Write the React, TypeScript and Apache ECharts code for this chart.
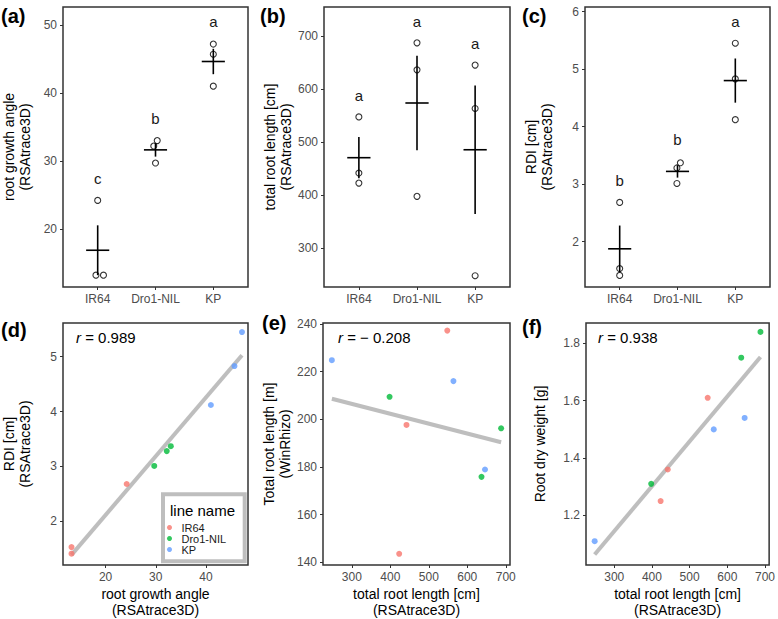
import React, { useEffect, useRef } from "react";
import * as echarts from "echarts";

// ---------- data ----------
const lineNames = ["IR64", "Dro1-NIL", "KP"];
const lineColors = ["#F8766D", "#00BA38", "#619CFF"];

// plants (3 per line), line index of each plant
const plantLine = [0, 0, 0, 1, 1, 1, 2, 2, 2];

// panels a, c, d
const rootGrowthAngle = [24.2, 13.2, 13.2, 33.0, 32.2, 29.7, 47.2, 45.7, 41.0];
const rdi = [2.68, 1.53, 1.41, 3.37, 3.28, 3.01, 5.45, 4.83, 4.12];
const jitterAngle = [0, -0.03, 0.1, 0.03, -0.03, 0, 0, 0, 0];
const jitterRdi = [0, 0, 0, 0.05, -0.01, -0.01, 0, 0, 0];

// panels b, e, f
const totalRootLengthRSA = [548, 442, 423, 688, 637, 398, 646, 564, 248];
const totalRootLengthWinRhizo = [237.2, 197.6, 143.5, 196.2, 175.8, 209.4, 178.9, 216.0, 224.8];
const rootDryWeight = [1.61, 1.36, 1.25, 1.84, 1.75, 1.31, 1.54, 1.5, 1.11];
const jitterLength = [0, 0, 0, 0, 0, 0, 0, 0, 0];

// significance letters
const lettersA = ["c", "b", "a"];
const letterYA = [27.4, 36.3, 50.5];
const lettersB = ["a", "a", "a"];
const letterYB = [589, 728, 687.5];
const lettersC = ["b", "b", "a"];
const letterYC = [3.07, 3.77, 5.83];

// correlation labels
const correlationLabels = ["0.989", "\u2212 0.208", "0.938"];

// tick values
const ticksAngleY = [20, 30, 40, 50];
const ticksLengthY = [300, 400, 500, 600, 700];
const ticksRdiTop = [2, 3, 4, 5, 6];
const ticksRdiBottom = [2, 3, 4, 5];
const ticksAngleX = [20, 30, 40];
const ticksLengthX = [300, 400, 500, 600, 700];
const ticksWinRhizo = [140, 160, 180, 200, 220, 240];
const ticksWeight = [1.2, 1.4, 1.6, 1.8];
const categoryTicks = [1, 2, 3];

// ---------- helpers ----------
const FONT = "Liberation Sans, Arial, Helvetica, sans-serif";

function meanSe(vals: number[]) {
  const n = vals.length;
  const m = vals.reduce((a, b) => a + b, 0) / n;
  const v = vals.reduce((a, b) => a + (b - m) * (b - m), 0) / (n - 1);
  const se = Math.sqrt(v) / Math.sqrt(n);
  return [m, m - se, m + se];
}

function groupStats(values: number[]) {
  return lineNames.map((_, li) => {
    const vals = values.filter((_, i) => plantLine[i] === li);
    const [m, lo, hi] = meanSe(vals);
    return [li + 1, m, lo, hi];
  });
}

function regression(xs: number[], ys: number[]) {
  const n = xs.length;
  const mx = xs.reduce((a, b) => a + b, 0) / n;
  const my = ys.reduce((a, b) => a + b, 0) / n;
  let sxy = 0, sxx = 0;
  for (let i = 0; i < n; i++) {
    sxy += (xs[i] - mx) * (ys[i] - my);
    sxx += (xs[i] - mx) * (xs[i] - mx);
  }
  const b = sxy / sxx;
  const a = my - b * mx;
  const x0 = Math.min(...xs), x1 = Math.max(...xs);
  return [[x0, a + b * x0], [x1, a + b * x1]];
}

const tickStyle = { show: true, length: 3, lineStyle: { color: "#333333", width: 1 } };
const labelBase = { color: "#4D4D4D", fontSize: 12, fontFamily: FONT, margin: 6 };
const nameStyle = { color: "#000", fontSize: 14, lineHeight: 16, fontFamily: FONT };

function valueAxis(gridIndex: number, min: number, max: number, ticks: number[], opts: any = {}) {
  const fmt = opts.formatter || ((v: number) => String(v));
  return {
    type: "value",
    gridIndex,
    min,
    max,
    axisLine: { show: false },
    splitLine: { show: false },
    axisTick: { ...tickStyle, customValues: ticks },
    axisLabel: { ...labelBase, customValues: ticks, formatter: fmt },
    name: opts.name,
    nameLocation: "middle",
    nameGap: opts.nameGap,
    nameTextStyle: nameStyle,
  };
}

function categoryAxis(gridIndex: number) {
  return {
    type: "value",
    gridIndex,
    min: 0.4,
    max: 3.6,
    axisLine: { show: false },
    splitLine: { show: false },
    axisTick: { ...tickStyle, customValues: categoryTicks },
    axisLabel: {
      ...labelBase,
      customValues: categoryTicks,
      formatter: (v: number) => lineNames[Math.round(v) - 1] || "",
    },
  };
}

function pointSeries(ax: number, values: number[], jitter: number[]) {
  return {
    type: "scatter",
    xAxisIndex: ax,
    yAxisIndex: ax,
    symbol: "circle",
    symbolSize: 6,
    itemStyle: { color: "rgba(255,255,255,0)", borderColor: "#000", borderWidth: 1.1 },
    data: values.map((v, i) => [plantLine[i] + 1 + jitter[i], v]),
    z: 3,
  };
}

function barSeries(ax: number, values: number[]) {
  return {
    type: "custom",
    xAxisIndex: ax,
    yAxisIndex: ax,
    data: groupStats(values),
    z: 4,
    renderItem: (params: any, api: any) => {
      const x = api.value(0);
      const m = api.value(1);
      const lo = api.coord([x, api.value(2)]);
      const hi = api.coord([x, api.value(3)]);
      const l = api.coord([x - 0.2, m]);
      const r = api.coord([x + 0.2, m]);
      const st = { stroke: "#000", lineWidth: 1.6 };
      return {
        type: "group",
        children: [
          { type: "line", shape: { x1: lo[0], y1: lo[1], x2: hi[0], y2: hi[1] }, style: st },
          { type: "line", shape: { x1: l[0], y1: l[1], x2: r[0], y2: r[1] }, style: st },
        ],
      };
    },
  };
}

function letterSeries(ax: number, letters: string[], ys: number[]) {
  return {
    type: "custom",
    xAxisIndex: ax,
    yAxisIndex: ax,
    data: ys.map((y, i) => [i + 1, y]),
    z: 5,
    renderItem: (params: any, api: any) => {
      const p = api.coord([api.value(0), api.value(1)]);
      return {
        type: "text",
        x: p[0],
        y: p[1],
        style: {
          text: letters[params.dataIndex],
          fontSize: 15,
          fontFamily: FONT,
          fill: "#1A1A1A",
          align: "center",
          verticalAlign: "middle",
        },
      };
    },
  };
}

function scatterSeries(ax: number, xs: number[], ys: number[]) {
  const out: any[] = [];
  out.push({
    type: "line",
    xAxisIndex: ax,
    yAxisIndex: ax,
    data: regression(xs, ys),
    symbol: "none",
    lineStyle: { color: "#BEBEBE", width: 4 },
    z: 2,
    silent: true,
  });
  lineNames.forEach((name, li) => {
    out.push({
      type: "scatter",
      name,
      xAxisIndex: ax,
      yAxisIndex: ax,
      symbol: "circle",
      symbolSize: 6,
      itemStyle: { color: lineColors[li] },
      data: xs.map((x, i) => [x, ys[i]]).filter((_, i) => plantLine[i] === li),
      z: 3,
    });
  });
  return out;
}

const gridBase = { show: true, borderColor: "#333333", borderWidth: 1.5, backgroundColor: "#FFFFFF" };

function rText(x: number, y: number, label: string) {
  return {
    type: "text",
    x,
    y,
    z: 20,
    style: {
      text: "{i|r} = " + label,
      fontSize: 15,
      fontFamily: FONT,
      fill: "#000",
      verticalAlign: "middle",
      rich: { i: { fontStyle: "italic", fontSize: 15, fontFamily: FONT } },
    },
  };
}

function panelLabel(left: number, top: number, text: string) {
  return { type: "text", left, top, style: { text, font: `bold 20px ${FONT}`, fill: "#000" } };
}

export default function App() {
  const ref = useRef<HTMLDivElement>(null);
  useEffect(() => {
    if (!ref.current) return;
    const chart = echarts.init(ref.current, undefined, { renderer: "svg" });
    const option: any = {
      animation: false,
      backgroundColor: "#FFFFFF",
      textStyle: { fontFamily: FONT },
      grid: [
        { ...gridBase, left: 63, top: 7, width: 185, height: 280 },
        { ...gridBase, left: 324, top: 7, width: 186, height: 280 },
        { ...gridBase, left: 585, top: 7, width: 185, height: 280 },
        { ...gridBase, left: 63, top: 323, width: 185, height: 244 },
        { ...gridBase, left: 323, top: 323, width: 187, height: 244 },
        { ...gridBase, left: 586, top: 323, width: 184, height: 244 },
      ],
      xAxis: [
        categoryAxis(0),
        categoryAxis(1),
        categoryAxis(2),
        valueAxis(3, 11.5, 48.4, ticksAngleX, { name: "root growth angle\n(RSAtrace3D)", nameGap: 21 }),
        valueAxis(4, 225, 711, ticksLengthX, { name: "total root length [cm]\n(RSAtrace3D)", nameGap: 21 }),
        valueAxis(5, 225, 711, ticksLengthX, { name: "total root length [cm]\n(RSAtrace3D)", nameGap: 21 }),
      ],
      yAxis: [
        valueAxis(0, 11.46, 52.65, ticksAngleY, { name: "root growth angle\n(RSAtrace3D)", nameGap: 30 }),
        valueAxis(1, 226.7, 755.7, ticksLengthY, { name: "total root length [cm]\n(RSAtrace3D)", nameGap: 30 }),
        valueAxis(2, 1.209, 6.08, ticksRdiTop, { name: "RDI [cm]\n(RSAtrace3D)", nameGap: 30 }),
        valueAxis(3, 1.204, 5.615, ticksRdiBottom, { name: "RDI [cm]\n(RSAtrace3D)", nameGap: 30 }),
        valueAxis(4, 138.8, 240.4, ticksWinRhizo, { name: "Total root length [m]\n(WinRhizo)", nameGap: 29 }),
        valueAxis(5, 1.027, 1.871, ticksWeight, {
          name: "Root dry weight [g]",
          nameGap: 38,
          formatter: (v: number) => v.toFixed(1),
        }),
      ],
      legend: {
        data: lineNames,
        orient: "vertical",
        left: 167,
        top: 522,
        icon: "circle",
        itemWidth: 14,
        itemHeight: 5,
        itemGap: 0,
        padding: 0,
        selectedMode: false,
        textStyle: { fontSize: 11, lineHeight: 11, color: "#1A1A1A", fontFamily: FONT },
        z: 12,
      },
      graphic: [
        panelLabel(1, 6, "(a)"),
        panelLabel(260, 6, "(b)"),
        panelLabel(522, 6, "(c)"),
        panelLabel(1, 320, "(d)"),
        panelLabel(262, 313, "(e)"),
        panelLabel(522, 317, "(f)"),
        rText(76, 337, correlationLabels[0]),
        rText(338, 337.5, correlationLabels[1]),
        rText(598, 337.5, correlationLabels[2]),
        {
          type: "rect",
          z: 10,
          shape: { x: 163, y: 494.3, width: 81.7, height: 67 },
          style: { fill: "#FFFFFF", stroke: "#BEBEBE", lineWidth: 4 },
        },
        {
          type: "text",
          z: 11,
          x: 170,
          y: 510,
          style: { text: "line name", fontSize: 15, fontFamily: FONT, fill: "#000", verticalAlign: "middle" },
        },
      ],
      series: [
        pointSeries(0, rootGrowthAngle, jitterAngle),
        barSeries(0, rootGrowthAngle),
        letterSeries(0, lettersA, letterYA),
        pointSeries(1, totalRootLengthRSA, jitterLength),
        barSeries(1, totalRootLengthRSA),
        letterSeries(1, lettersB, letterYB),
        pointSeries(2, rdi, jitterRdi),
        barSeries(2, rdi),
        letterSeries(2, lettersC, letterYC),
        ...scatterSeries(3, rootGrowthAngle, rdi),
        ...scatterSeries(4, totalRootLengthRSA, totalRootLengthWinRhizo),
        ...scatterSeries(5, totalRootLengthRSA, rootDryWeight),
      ],
    };
    chart.setOption(option);
    return () => chart.dispose();
  }, []);
  return (
    <div
      ref={ref}
      style={{ position: "absolute", left: 0, top: 0, width: 778, height: 619, background: "#fff" }}
    />
  );
}
